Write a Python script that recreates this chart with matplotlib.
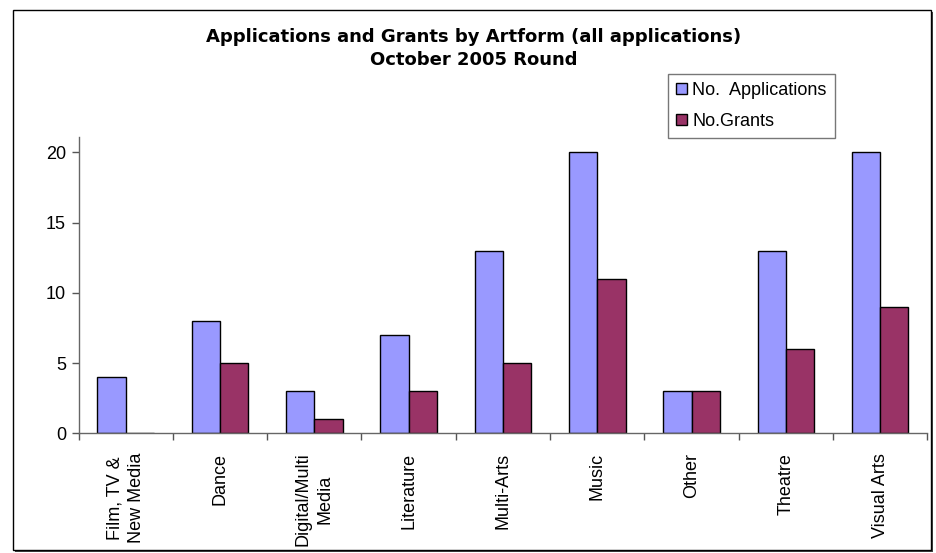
import numpy as np
import matplotlib
matplotlib.use("Agg")
import matplotlib.pyplot as plt
from matplotlib.patches import Rectangle

plt.rcParams['font.family'] = ['Liberation Sans', 'DejaVu Sans']

categories = ["Film, TV &\nNew Media", "Dance", "Digital/Multi\nMedia", "Literature",
              "Multi-Arts", "Music", "Other", "Theatre", "Visual Arts"]
applications = [4, 8, 3, 7, 13, 20, 3, 13, 20]
grants = [0, 5, 1, 3, 5, 11, 3, 6, 9]

W, H = 936, 553
fig = plt.figure(figsize=(W / 100, H / 100), dpi=100)
fig.patch.set_facecolor("white")

# plot area in pixel coords of the reference
left, right, top, bottom = 78.5, 927.3, 137.3, 433.3
ax = fig.add_axes([left / W, 1 - bottom / H, (right - left) / W, (bottom - top) / H])

x = np.arange(len(categories))
bw = 0.3
ax.bar(x - bw / 2, applications, bw, color="#9999FF", edgecolor="black", linewidth=1,
       label="No.  Applications")
ax.bar(x + bw / 2, grants, bw, color="#993366", edgecolor="black", linewidth=1,
       label="No.Grants")

ax.set_xlim(-0.5, len(categories) - 0.5)
ax.set_ylim(0, 21.07)
ax.set_yticks([0, 5, 10, 15, 20])
ax.tick_params(axis="y", direction="out", length=5, width=1, colors="#555555",
               labelcolor="black", labelsize=13, pad=4)

ax.set_xticks(x)
ax.set_xticklabels(categories, rotation=90, fontsize=13, ha="center", va="top")
for lbl in ax.get_xticklabels():
    lbl.set_multialignment("center")
    lbl.set_linespacing(1.4)
ax.tick_params(axis="x", which="major", length=0, pad=14)
ax.set_xticks(np.arange(-0.5, len(categories)), minor=True)
ax.tick_params(axis="x", which="minor", direction="out", length=5, width=1, colors="#555555")

for s in ["top", "right"]:
    ax.spines[s].set_visible(False)
for s in ["left", "bottom"]:
    ax.spines[s].set_color("#666666")
    ax.spines[s].set_linewidth(1)

fig.text(474 / W, 1 - 37 / H, "Applications and Grants by Artform (all applications)",
         ha="center", va="center", fontsize=13, fontweight="bold", family="DejaVu Sans")
fig.text(474 / W, 1 - 60 / H, "October 2005 Round",
         ha="center", va="center", fontsize=13, fontweight="bold", family="DejaVu Sans")

leg = fig.legend(loc="upper left", bbox_to_anchor=(668 / W, 1 - 74 / H), frameon=True,
                 fancybox=False, fontsize=13, handlelength=0.6, handleheight=0.6,
                 handletextpad=0.3, labelspacing=0.75, borderpad=0.45, borderaxespad=0)
leg.get_frame().set_edgecolor("#555555")
leg.get_frame().set_linewidth(1)

# chart border with a small shadow
fig.patches.append(Rectangle((15 / W, 1 - 552 / H), 918 / W, 540 / H, transform=fig.transFigure,
                             facecolor="#444444", edgecolor="none", zorder=-2))
fig.patches.append(Rectangle((13 / W, 1 - 550 / H), 918 / W, 540 / H, transform=fig.transFigure,
                             facecolor="white", edgecolor="black", linewidth=1, zorder=-1))

fig.savefig("out.png", dpi=100)
